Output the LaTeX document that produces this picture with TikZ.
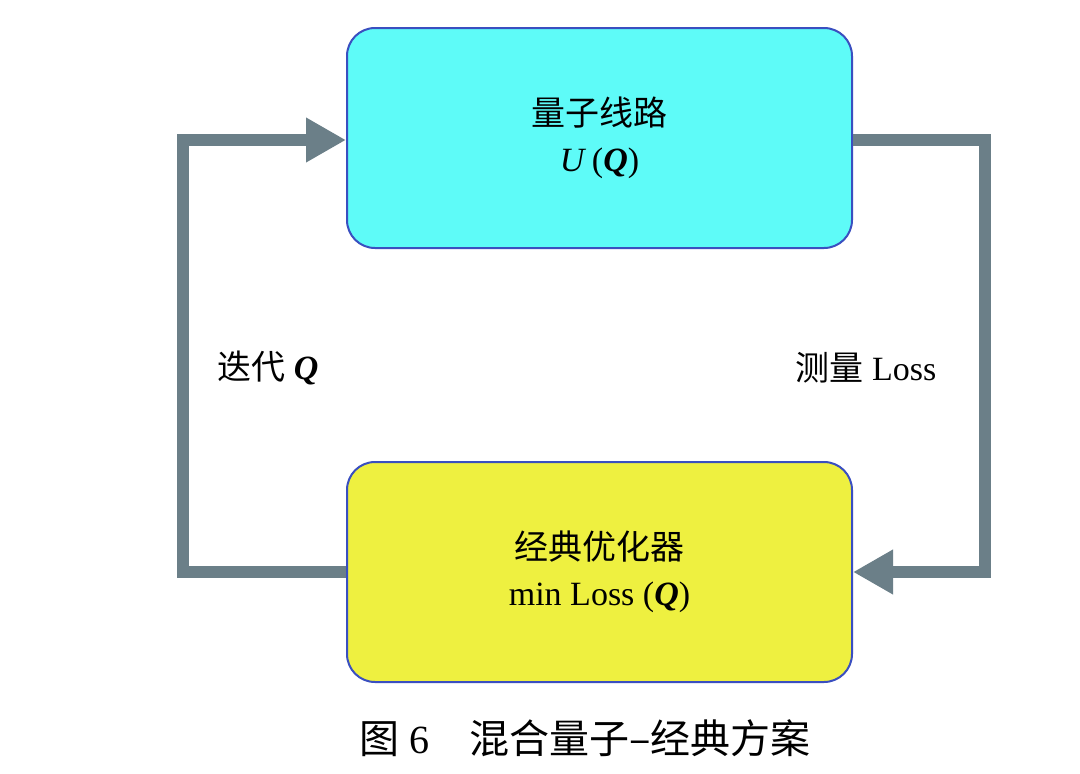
\documentclass[tikz,border=0pt]{standalone}
\usepackage{fontspec}
\setmainfont{Liberation Serif}
\newfontfamily\cjk{Noto Sans CJK SC}
\usetikzlibrary{arrows.meta}
\definecolor{cy}{HTML}{5EFBF8}
\definecolor{ye}{HTML}{EEF040}
\definecolor{bd}{HTML}{3A4FC0}
\definecolor{ar}{HTML}{6B7F88}
\begin{document}
\begin{tikzpicture}[x=1pt,y=-1pt,
 box/.style={draw=bd,line width=2pt,rounded corners=28pt,minimum width=505pt,minimum height=220pt,align=center,font=\fontsize{34}{46}\selectfont},
 flow/.style={draw=ar,line width=12pt,-{Triangle[length=40pt,width=42pt]}},
 lab/.style={font=\fontsize{34}{40}\selectfont}]
\useasboundingbox (0,0) rectangle (1080,774);
\fill[white] (0,0) rectangle (1080,774);
\node[box,fill=cy] (q) at (599.5,138) {{\cjk 量子线路}\\ \textit{U}\,(\textbf{\textit{Q}})};
\node[box,fill=ye] (c) at (599.5,572) {{\cjk 经典优化器}\\ min Loss (\textbf{\textit{Q}})};
\coordinate (l1) at (183,572);
\coordinate (l2) at (183,140);
\coordinate (r1) at (985,140);
\coordinate (r2) at (985,572);
\draw[flow,line join=miter] (c.west) -- (l1) -- (l2) -- (q.west |- l2);
\draw[flow,line join=miter] (q.east |- r1) -- (r1) -- (r2) -- (c.east);
\node[lab] (li) at (268,368) {{\cjk 迭代} \textbf{\textit{Q}}};
\node[lab] (lm) at (866,368) {{\cjk 测量} Loss};
\node[font=\fontsize{40}{46}\selectfont] (cap) at (585,738) {{\cjk 图} 6\quad{\cjk 混合量子–经典方案}};
\end{tikzpicture}
\end{document}
